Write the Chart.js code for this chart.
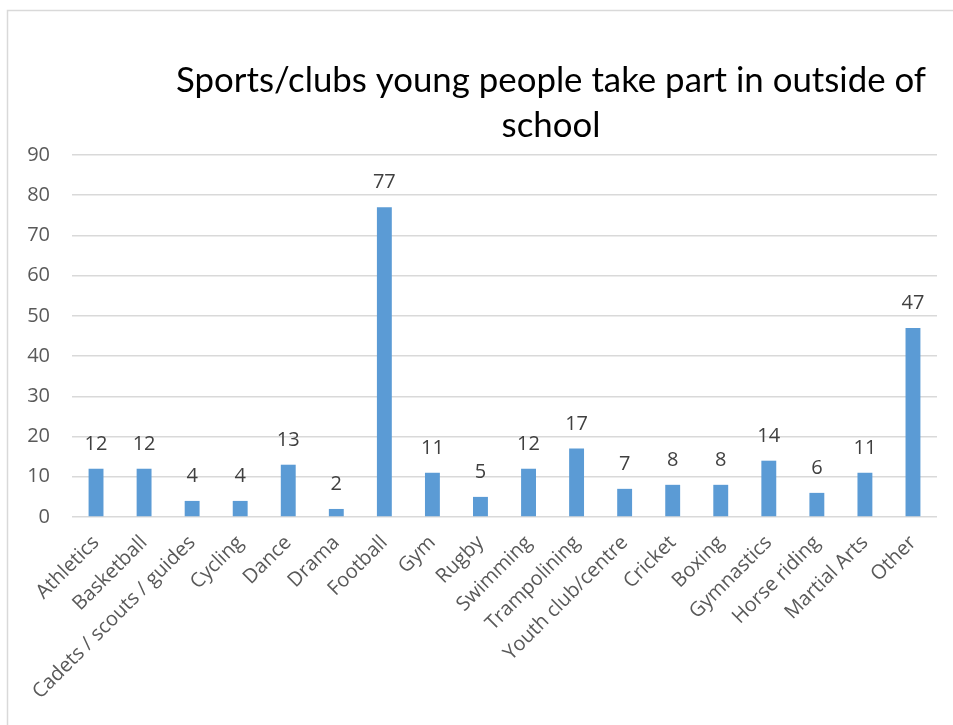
<!DOCTYPE html>
<html>
<head>
<meta charset="utf-8">
<title>Sports/clubs young people take part in outside of school</title>
<script src="https://cdn.jsdelivr.net/npm/chart.js@4/dist/chart.umd.min.js"></script>
<style>
  html, body { margin: 0; padding: 0; background: #fff; }
  #wrap { width: 953px; height: 725px; }
</style>
</head>
<body>
<div id="wrap"><canvas id="clubs" width="953" height="725"></canvas></div>
<script>
const titleLines = ['Sports/clubs young people take part in outside of', 'school'];
const activities = [
  'Athletics', 'Basketball', 'Cadets / scouts / guides', 'Cycling', 'Dance', 'Drama',
  'Football', 'Gym', 'Rugby', 'Swimming', 'Trampolining', 'Youth club/centre',
  'Cricket', 'Boxing', 'Gymnastics', 'Horse riding', 'Martial Arts', 'Other'
];
const counts = [12, 12, 4, 4, 13, 2, 77, 11, 5, 12, 17, 7, 8, 8, 14, 6, 11, 47];
const yTicks = [0, 10, 20, 30, 40, 50, 60, 70, 80, 90];

const labelFont = '"Open Sans", "Noto Sans", sans-serif';

// thin grey frame round the chart and the two-line heading
const framePlugin = {
  id: 'frame',
  beforeDraw(chart) {
    const ctx = chart.ctx;
    ctx.save();
    ctx.fillStyle = '#fff';
    ctx.fillRect(0, 0, chart.width, chart.height);
    ctx.strokeStyle = '#d9d9d9';
    ctx.lineWidth = 1.5;
    ctx.strokeRect(7.5, 10.5, chart.width + 20, chart.height + 20);
    ctx.restore();
  },
  afterDraw(chart) {
    const ctx = chart.ctx;
    ctx.save();
    ctx.fillStyle = '#000';
    ctx.font = '34.8px Lato, "Open Sans", sans-serif';
    ctx.textAlign = 'center';
    ctx.textBaseline = 'alphabetic';
    titleLines.forEach((line, i) => ctx.fillText(line, 551, 92 + i * 45));
    ctx.restore();
  }
};

// value printed above each bar
const valueLabels = {
  id: 'valueLabels',
  afterDatasetsDraw(chart) {
    const ctx = chart.ctx;
    const meta = chart.getDatasetMeta(0);
    ctx.save();
    ctx.fillStyle = '#404040';
    ctx.font = '20px ' + labelFont;
    ctx.textAlign = 'center';
    ctx.textBaseline = 'alphabetic';
    meta.data.forEach((bar, i) => {
      ctx.fillText(String(counts[i]), bar.x, bar.y - 19);
    });
    ctx.restore();
  }
};

const ctx = document.getElementById('clubs').getContext('2d');
const chart = new Chart(ctx, {
  type: 'bar',
  data: {
    labels: activities,
    datasets: [{
      data: counts,
      backgroundColor: '#5b9bd5',
      borderWidth: 0,
      categoryPercentage: 1,
      barPercentage: 0.31
    }]
  },
  options: {
    responsive: false,
    animation: false,
    layout: { padding: { top: 155, right: 16, left: 0, bottom: 0 } },
    plugins: {
      legend: { display: false },
      title: { display: false },
      tooltip: { enabled: false }
    },
    scales: {
      x: {
        grid: { display: false, drawTicks: false },
        border: { display: false },
        ticks: {
          color: '#595959',
          font: { family: labelFont, size: 20 },
          maxRotation: 45,
          minRotation: 45,
          autoSkip: false,
          padding: 14
        },
        afterFit(scale) { scale.height = 208; }
      },
      y: {
        min: 0,
        max: 90,
        afterBuildTicks(scale) { scale.ticks = yTicks.map(v => ({ value: v })); },
        grid: { color: '#d9d9d9', lineWidth: 1.5, drawTicks: false },
        border: { display: false },
        ticks: {
          color: '#595959',
          font: { family: labelFont, size: 20 },
          padding: 22
        },
        afterFit(scale) { scale.width = 72; }
      }
    }
  },
  plugins: [framePlugin, valueLabels]
});
</script>
</body>
</html>
